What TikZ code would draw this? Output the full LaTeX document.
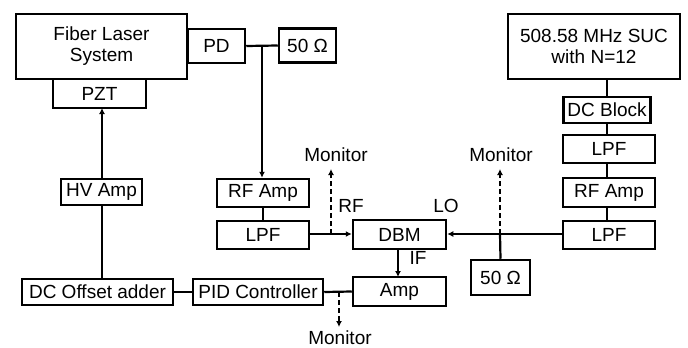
\documentclass[tikz,border=0pt]{standalone}
\usepackage{fontspec}
\setmainfont{Liberation Sans}
\usetikzlibrary{arrows.meta}
\begin{document}
\begin{tikzpicture}[x=1pt,y=-1pt,
  box/.style={draw,line width=2.5pt,inner sep=0pt,align=center,
    font=\fontsize{19}{21}\selectfont},
  lbl/.style={inner sep=0pt,font=\fontsize{19}{21}\selectfont},
  wire/.style={line width=2.2pt},
  arr/.style={line width=2.2pt,-{Latex[length=6pt,width=6pt]}},
  darr/.style={line width=2.2pt,dash pattern=on 5pt off 3pt,-{Latex[length=6pt,width=6pt]}}]
\useasboundingbox (0,0) rectangle (688,348);
% boxes
\node[box,minimum width=171pt,minimum height=65pt] (fls) at (101.5,46.5) {Fiber Laser\\System};
\node[box,minimum width=57pt,minimum height=34pt] (pd) at (216.5,46) {PD};
\node[box,minimum width=57pt,minimum height=34pt] (ra) at (307.5,45.5) {50 Ω};
\node[box,minimum width=93pt,minimum height=29pt] (pzt) at (99.5,93.5) {PZT};
\node[box,minimum width=81pt,minimum height=26pt] (hv) at (101.5,192) {HV Amp};
\node[box,minimum width=92pt,minimum height=28pt] (rfa) at (263,193) {RF Amp};
\node[box,minimum width=92pt,minimum height=28pt] (lpfl) at (263,235) {LPF};
\node[box,minimum width=151pt,minimum height=26pt] (dco) at (97.5,292) {DC Offset adder};
\node[box,minimum width=130pt,minimum height=26pt] (pid) at (258,292) {PID Controller};
\node[box,minimum width=93pt,minimum height=29pt] (dbm) at (399.5,234.5) {DBM};
\node[box,minimum width=93pt,minimum height=29pt] (amp) at (399.5,291.5) {Amp};
\node[box,minimum width=59pt,minimum height=35pt] (rb) at (500.5,277.5) {50 Ω};
\node[box,minimum width=172pt,minimum height=65pt] (suc) at (594,46.5) {508.58 MHz SUC\\with N=12};
\node[box,minimum width=87pt,minimum height=26pt] (dcb) at (607,110) {DC Block};
\node[box,minimum width=92pt,minimum height=28pt] (lpf1) at (609,149) {LPF};
\node[box,minimum width=92pt,minimum height=29pt] (rfar) at (609,192.5) {RF Amp};
\node[box,minimum width=92pt,minimum height=28pt] (lpf2) at (609,235) {LPF};
% labels
\node[lbl] (m1) at (336,155) {Monitor};
\node[lbl] (m2) at (501,155) {Monitor};
\node[lbl] (m3) at (340,337.5) {Monitor};
\node[lbl] (rf) at (351,206) {RF};
\node[lbl] (lo) at (446,206) {LO};
\node[lbl] (if) at (418,258) {IF};
% coordinates
\coordinate (j1) at (262,46);
\coordinate (j2) at (331,234);
\coordinate (j3) at (500,234);
\coordinate (j4) at (339,292);
% connectors
\draw[wire] (pd.east) -- (ra.west);
\draw[arr] (j1) -- (j1 |- rfa.north);
\draw[wire] (rfa.south) -- (lpfl.north);
\draw[arr] (lpfl.east |- j2) -- (dbm.west |- j2);
\draw[darr] (j2) -- (331,169);
\draw[arr] (lpf2.west |- j3) -- (dbm.east |- j3);
\draw[darr] (j3) -- (500,169);
\draw[wire] (rb.north) -- (j3);
\draw[arr] (398,249) -- (398,277);
\draw[wire] (amp.west) -- (pid.east);
\draw[darr] (j4) -- (339,327);
\draw[wire] (pid.west) -- (dco.east);
\draw[wire] (102,279) -- (102,205);
\draw[arr] (102,179) -- (102,108);
\draw[wire] (607,79) -- (607,97);
\draw[wire] (607,123) -- (607,135);
\draw[wire] (607,163) -- (607,178);
\draw[wire] (607,207) -- (607,221);
\end{tikzpicture}
\end{document}
